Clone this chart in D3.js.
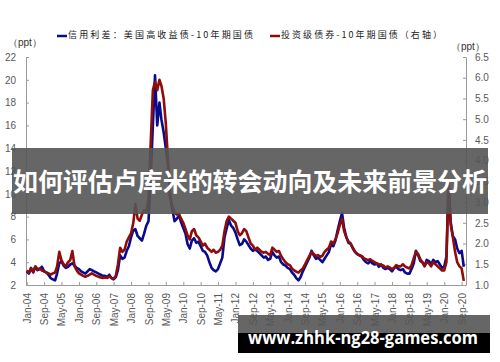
<!DOCTYPE html>
<html>
<head>
<meta charset="utf-8">
<script src="https://cdn.jsdelivr.net/npm/d3@7"></script>
<style>
  body { margin: 0; background: #fff; }
  svg text { font-family: "Liberation Sans", Arial, sans-serif; }
</style>
</head>
<body>
<svg width="500" height="362"></svg>
<script>
// месячные значения, первая точка = Jan-04
const startMonth = "2004-01"

// 信用利差：美国高收益债-10年期国债 (левая ось, ppt)
const hySpread = [
  3.2, 3.0, 3.5, 3.1, 3.6, 3.3, 3.4, 3.6, 3.2, 3.1, 2.9, 2.6,   // 2004
  2.5, 2.4, 3.0, 3.9, 4.1, 3.7, 3.5, 3.6, 3.8, 3.9, 3.7, 3.5,   // 2005
  3.4, 3.2, 3.1, 3.0, 3.2, 3.4, 3.3, 3.2, 3.1, 3.0, 2.9, 2.8,   // 2006
  2.8, 2.7, 2.9, 2.6, 2.5, 2.7, 3.3, 4.6, 4.3, 4.4, 5.0, 5.4,   // 2007
  6.2, 6.8, 6.9, 6.3, 6.1, 5.9, 6.5, 7.2, 7.6, 11.5, 16.0, 20.4, // 2008
  16.0, 18.0, 16.5, 15.4, 14.0, 12.5, 9.8, 8.6, 7.6, 7.8, 8.1, 7.5, // 2009
  7.0, 6.5, 5.6, 5.2, 5.9, 6.1, 5.7, 5.8, 5.4, 5.0, 4.9, 4.6,   // 2010
  4.0, 3.5, 3.3, 3.2, 3.4, 3.9, 4.4, 6.2, 7.0, 7.7, 7.2, 7.0,   // 2011
  6.6, 6.0, 5.5, 5.6, 6.0, 5.8, 5.5, 5.2, 5.0, 5.1, 5.0, 4.8,   // 2012
  4.6, 4.4, 4.5, 4.2, 4.3, 4.9, 4.6, 4.4, 4.5, 4.0, 3.8, 3.7,   // 2013
  3.5, 3.4, 3.1, 2.9, 2.6, 2.4, 2.7, 3.2, 3.6, 4.0, 4.4, 5.0,   // 2014
  4.6, 4.3, 4.4, 4.2, 4.0, 4.3, 4.6, 4.9, 5.6, 5.4, 5.9, 6.8,   // 2015
  7.6, 8.3, 7.0, 6.2, 5.7, 5.6, 5.2, 4.9, 4.7, 4.6, 4.5, 4.2,   // 2016
  4.0, 3.9, 4.1, 3.9, 3.8, 3.9, 3.6, 3.8, 3.5, 3.4, 3.5, 3.4,   // 2017
  3.2, 3.5, 3.6, 3.4, 3.3, 3.4, 3.1, 3.0, 3.0, 3.4, 3.9, 5.0,   // 2018
  4.6, 4.1, 4.0, 3.7, 4.2, 4.1, 3.8, 4.2, 4.0, 4.1, 3.8, 3.5,   // 2019
  3.6, 4.5, 10.8, 7.5, 6.3, 6.0, 5.2, 4.8, 5.0, 3.6            // 2020
]

// 投资级债券-10年期国债 (правая ось, ppt)
const igSpread = [
  1.35, 1.30, 1.40, 1.32, 1.45, 1.38, 1.40, 1.35, 1.33, 1.30, 1.28, 1.25, // 2004
  1.28, 1.30, 1.45, 1.80, 1.60, 1.50, 1.45, 1.55, 1.60, 1.82, 1.45, 1.35, // 2005
  1.28, 1.25, 1.22, 1.20, 1.22, 1.25, 1.28, 1.25, 1.22, 1.20, 1.18, 1.17, // 2006
  1.18, 1.17, 1.20, 1.17, 1.15, 1.22, 1.50, 1.90, 1.80, 1.85, 2.05, 2.15, // 2007
  2.25, 2.50, 2.95, 2.60, 2.55, 2.70, 2.80, 2.75, 3.10, 4.40, 5.70, 5.90, // 2008
  5.70, 5.95, 5.80, 5.50, 4.90, 4.00, 3.10, 2.90, 2.75, 2.70, 2.72, 2.60, // 2009
  2.50, 2.35, 2.20, 2.10, 2.30, 2.35, 2.20, 2.15, 2.05, 1.95, 2.00, 1.90, // 2010
  1.85, 1.80, 1.85, 1.78, 1.80, 1.85, 1.95, 2.30, 2.55, 2.65, 2.60, 2.55, // 2011
  2.50, 2.30, 2.20, 2.25, 2.35, 2.30, 2.15, 2.00, 1.95, 1.85, 1.90, 1.85, // 2012
  1.80, 1.78, 1.80, 1.75, 1.72, 1.90, 1.85, 1.80, 1.82, 1.70, 1.62, 1.55, // 2013
  1.50, 1.48, 1.40, 1.35, 1.32, 1.30, 1.35, 1.40, 1.50, 1.60, 1.70, 1.80, // 2014
  1.75, 1.70, 1.72, 1.68, 1.70, 1.80, 1.85, 1.90, 2.05, 2.00, 2.10, 2.25, // 2015
  2.45, 2.60, 2.30, 2.15, 2.05, 2.00, 1.90, 1.80, 1.75, 1.72, 1.70, 1.65, // 2016
  1.62, 1.60, 1.62, 1.58, 1.55, 1.52, 1.50, 1.48, 1.47, 1.42, 1.45, 1.42, // 2017
  1.38, 1.42, 1.48, 1.45, 1.45, 1.50, 1.45, 1.42, 1.40, 1.48, 1.65, 1.80, // 2018
  1.75, 1.62, 1.55, 1.45, 1.55, 1.52, 1.45, 1.55, 1.50, 1.45, 1.40, 1.35, // 2019
  1.35, 1.55, 3.45, 2.45, 2.15, 1.80, 1.55, 1.45, 1.40, 1.10              // 2020
]

const xTickLabels = ["Jan-04","Sep-04","May-05","Jan-06","Sep-06","May-07","Jan-08","Sep-08",
  "May-09","Jan-10","Sep-10","May-11","Jan-12","Sep-12","May-13","Jan-14","Sep-14","May-15",
  "Jan-16","Sep-16","May-17","Jan-18","Sep-18","May-19","Jan-20","Sep-20"]
const leftTicks = [2, 4, 6, 8, 10, 12, 14, 16, 18, 20, 22]
const rightTicks = [1.0, 1.5, 2.0, 2.5, 3.0, 3.5, 4.0, 4.5, 5.0, 5.5, 6.0, 6.5]

const legendNames = ["信用利差：美国高收益债-10年期国债", "投资级债券-10年期国债（右轴）"]
const bannerText = "如何评估卢库米的转会动向及未来前景分析"
const siteText = "www.zhhk-ng28-games.com"

const svg = d3.select("svg")
const plotLeft = 26, plotRight = 466, plotTop = 57, plotBottom = 285
const blue = "#0a0a8c", red = "#8e0c0c"
const axisGrey = "#9a9a9a", labelGrey = "#595959"

const start = d3.timeParse("%Y-%m")(startMonth)
const parseTick = d3.timeParse("%b-%y")

const x = d3.scaleTime()
  .domain([new Date(2003, 11, 22), new Date(2020, 10, 1)])
  .range([plotLeft, plotRight])
const yL = d3.scaleLinear().domain([2, 22]).range([plotBottom, plotTop])
const yR = d3.scaleLinear().domain([1, 6.5]).range([plotBottom, plotTop])

//<--- ОСИ
function styleAxis(g) {
  g.select(".domain").attr("stroke", axisGrey)
  g.selectAll(".tick line").attr("stroke", axisGrey)
  g.selectAll(".tick text").attr("fill", labelGrey).style("font-size", "10px")
}

svg.append("g")
  .attr("transform", `translate(${plotLeft},0)`)
  .call(d3.axisLeft(yL).tickValues(leftTicks).tickSize(-3).tickSizeOuter(0).tickPadding(10))
  .call(styleAxis)

svg.append("g")
  .attr("transform", `translate(${plotRight},0)`)
  .call(d3.axisRight(yR).tickValues(rightTicks).tickFormat(d3.format(".1f"))
    .tickSize(-3).tickSizeOuter(0).tickPadding(9))
  .call(styleAxis)

svg.append("g")
  .attr("transform", `translate(0,${plotBottom})`)
  .call(d3.axisBottom(x).tickValues(xTickLabels.map(parseTick))
    .tickFormat(d3.timeFormat("%b-%y")).tickSize(-3).tickSizeOuter(0))
  .call(styleAxis)
  .selectAll(".tick text")
    .attr("transform", "rotate(-90)")
    .attr("x", -8)
    .attr("y", 0)
    .attr("dy", "0.35em")
    .style("text-anchor", "end")

// единицы
svg.append("text").attr("x", 8).attr("y", 43).attr("dominant-baseline", "middle")
  .attr("fill", "#333").style("font-size", "10px").text("（ppt）")
svg.append("text").attr("x", 451).attr("y", 47).attr("dominant-baseline", "middle")
  .attr("fill", "#333").style("font-size", "10px").text("（ppt）")

//<--- ЛИНИИ
const hyData = hySpread.map((v, i) => ({date: d3.timeMonth.offset(start, i), v}))
const igData = igSpread.map((v, i) => ({date: d3.timeMonth.offset(start, i), v}))

const lineL = d3.line().x(d => x(d.date)).y(d => yL(d.v))
const lineR = d3.line().x(d => x(d.date)).y(d => yR(d.v))

svg.append("path").attr("d", lineL(hyData))
  .attr("fill", "none").attr("stroke", blue).attr("stroke-width", 2.6).attr("stroke-linejoin", "round")
svg.append("path").attr("d", lineR(igData))
  .attr("fill", "none").attr("stroke", red).attr("stroke-width", 2.6).attr("stroke-linejoin", "round")

//<--- ЛЕГЕНДА
const legendItems = [
  {name: legendNames[0], color: blue, x: 57, w: 185},
  {name: legendNames[1], color: red, x: 270, w: 161}
]
const lg = svg.selectAll(".legend").data(legendItems).join("g").attr("class", "legend")
lg.append("line")
  .attr("x1", d => d.x).attr("x2", d => d.x + 10)
  .attr("y1", 36).attr("y2", 36)
  .attr("stroke", d => d.color).attr("stroke-width", 2.5)
lg.append("text")
  .attr("x", d => d.x + 11).attr("y", 36)
  .attr("dominant-baseline", "middle")
  .attr("textLength", d => d.w).attr("lengthAdjust", "spacing")
  .attr("fill", "#222")
  .style("font-family", "'Noto Sans CJK SC', sans-serif").style("font-size", "9px")
  .text(d => d.name)

//<--- НАДПИСИ ПОВЕРХ
svg.append("rect").attr("x", 12).attr("y", 148).attr("width", 476).attr("height", 66)
  .attr("fill", "#555").attr("opacity", 0.9)
svg.append("text").attr("x", 13).attr("y", 184)
  .attr("dominant-baseline", "middle")
  .attr("textLength", 474).attr("lengthAdjust", "spacingAndGlyphs")
  .attr("fill", "#fff")
  .style("font-family", "'Noto Sans CJK SC', sans-serif").style("font-size", "25px").style("font-weight", "bold")
  .text(bannerText)

svg.append("rect").attr("x", 238).attr("y", 315).attr("width", 252).attr("height", 18)
  .attr("fill", "#555").attr("opacity", 0.9)
svg.append("rect").attr("x", 238).attr("y", 333).attr("width", 252).attr("height", 20)
  .attr("fill", "#000")
svg.append("text").attr("x", 248).attr("y", 344)
  .attr("textLength", 230).attr("lengthAdjust", "spacingAndGlyphs")
  .attr("fill", "#fff")
  .style("font-family", "'Open Sans', sans-serif").style("font-size", "17px").style("font-weight", "bold")
  .text(siteText)
</script>
</body>
</html>
